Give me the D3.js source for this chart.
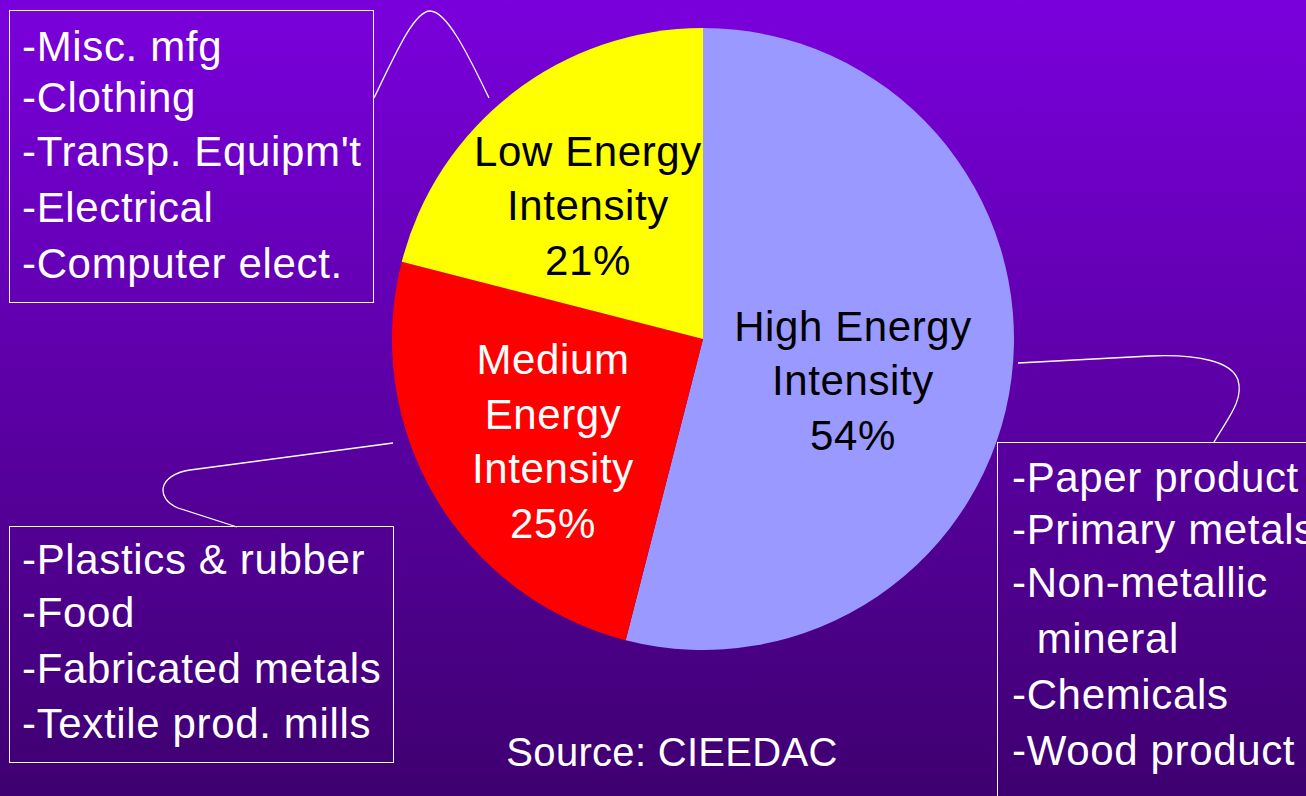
<!DOCTYPE html>
<html>
<head>
<meta charset="utf-8">
<script src="https://cdn.jsdelivr.net/npm/d3@7"></script>
<style>
	html, body { margin: 0; padding: 0; background: #5a00a0; }
	svg { display: block; font-family: "Liberation Sans", Arial, sans-serif; }
</style>
</head>
<body>
<svg id="chart" width="1306" height="796"></svg>
<script>
// Energy intensity groups, share of manufacturing (clockwise from 12 o'clock)
const categories = ["High", "Medium", "Low"];
const shares = [54, 25, 21];
const sliceColors = ["#9999ff", "#ff0000", "#ffff00"];
const labelColors = ["#000000", "#ffffff", "#000000"];
const labelLines = [
	["High Energy", "Intensity", "54%"],
	["Medium", "Energy", "Intensity", "25%"],
	["Low Energy", "Intensity", "21%"],
];

// Sector lists shown in the call-out boxes
const lowItems = ["-Misc. mfg", "-Clothing", "-Transp. Equipm't", "-Electrical", "-Computer elect."];
const mediumItems = ["-Plastics & rubber", "-Food", "-Fabricated metals", "-Textile prod. mills"];
const highItems = ["-Paper product", "-Primary metals", "-Non-metallic", "  mineral", "-Chemicals", "-Wood product"];
const sourceText = "Source: CIEEDAC";

const W = 1306, H = 796;
const cx = 703, cy = 339, R = 311;
const FONT = 42;

const svg = d3.select("#chart");

// purple background fade
const grad = svg.append("defs").append("linearGradient")
	.attr("id", "bg").attr("x1", 0).attr("y1", 0).attr("x2", 0).attr("y2", 1);
grad.append("stop").attr("offset", "0%").attr("stop-color", "#7a00dc");
grad.append("stop").attr("offset", "100%").attr("stop-color", "#3e0070");
svg.append("rect").attr("width", W).attr("height", H).attr("fill", "url(#bg)");

// pie
const pie = d3.pie().sort(null).value(d => d)(shares);
const arc = d3.arc().innerRadius(0).outerRadius(R);
const g = svg.append("g").attr("transform", `translate(${cx},${cy})`);
g.selectAll("path.slice")
	.data(pie)
	.join("path")
	.attr("class", "slice")
	.attr("d", arc)
	.attr("fill", (d, i) => sliceColors[i]);

// label block centres relative to pie centre
const labelPos = { High: [150, 41], Medium: [-150, 102], Low: [-115, -134] };
const LINE = 54.5;
pie.forEach((d, i) => {
	const lines = labelLines[i];
	const [lx, ly] = labelPos[categories[i]];
	const t = g.append("text")
		.attr("text-anchor", "middle")
		.attr("font-size", FONT)
		.attr("letter-spacing", 0.6)
		.attr("fill", labelColors[i]);
	lines.forEach((s, k) => {
		t.append("tspan")
			.attr("x", lx)
			.attr("y", ly + (k - (lines.length - 1) / 2) * LINE + 15)
			.text(s);
	});
});

// call-out boxes
function box(x, y, w, h, items, tx, baselines) {
	svg.append("rect")
		.attr("x", x + 0.5).attr("y", y + 0.5)
		.attr("width", w).attr("height", h)
		.attr("fill", "none").attr("stroke", "#ffffff").attr("stroke-width", 1);
	const t = svg.append("text").attr("font-size", FONT).attr("fill", "#ffffff")
		.attr("letter-spacing", 0.65)
		.attr("xml:space", "preserve").style("white-space", "pre");
	items.forEach((s, k) => {
		t.append("tspan").attr("x", tx).attr("y", baselines[k]).text(s);
	});
}
box(9, 10, 364, 292, lowItems, 22, [61, 112, 166, 222, 278]);
box(9, 526, 384, 236, mediumItems, 22, [574, 627, 683, 738]);
box(997, 442, 330, 380, highItems, 1012, [492, 544, 597, 653, 709, 765]);

// connectors from the boxes to the pie
const connectors = [
	"M374,98 C398,48 415,11 430,11 C446,11 466,50 489,98",
	"M393,443 L190,470 C158,475 155,498 178,508 L237,527",
	"M1018,363 L1150,356 C1200,354 1232,362 1238,380 C1244,400 1228,418 1214,442",
];
svg.selectAll("path.conn")
	.data(connectors)
	.join("path")
	.attr("class", "conn")
	.attr("d", d => d)
	.attr("fill", "none")
	.attr("stroke", "#ffffff")
	.attr("stroke-width", 1.3);

svg.append("text")
	.attr("x", 672).attr("y", 766)
	.attr("text-anchor", "middle")
	.attr("font-size", FONT - 2)
	.attr("letter-spacing", 0.3)
	.attr("fill", "#ffffff")
	.text(sourceText);
</script>
</body>
</html>
